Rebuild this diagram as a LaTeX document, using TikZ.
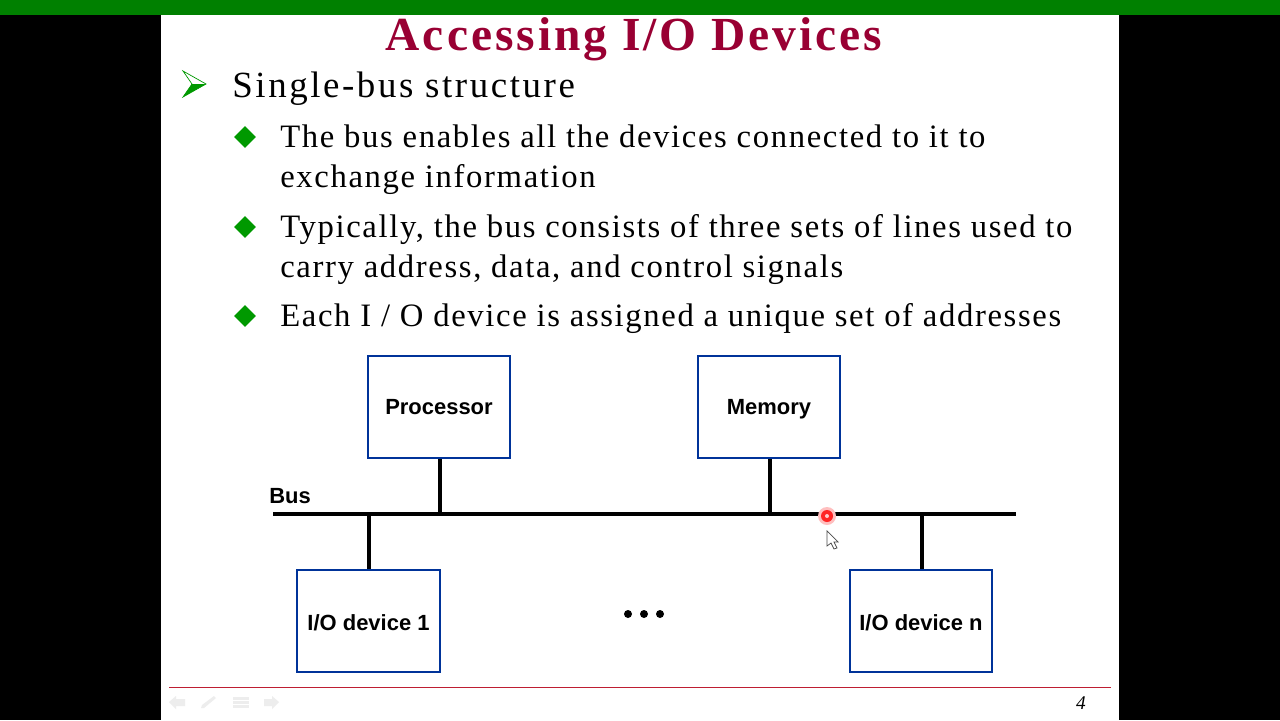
\documentclass[tikz,border=0pt]{standalone}
\usepackage{fontspec}
\setmainfont{Liberation Serif}
\setsansfont{Liberation Sans}
\usetikzlibrary{shapes.geometric,positioning}
\definecolor{barGreen}{RGB}{0,128,0}
\definecolor{titleRed}{RGB}{153,0,51}
\definecolor{boxBlue}{RGB}{0,51,153}
\definecolor{bulletGreen}{RGB}{0,153,0}
\definecolor{footRed}{RGB}{190,30,50}
\tikzset{
  unitbox/.style={draw=boxBlue,line width=1.3pt,fill=white,minimum width=80.5pt,minimum height=58pt,inner sep=0pt,font=\sffamily\bfseries\fontsize{12.5}{14}\selectfont,text=black,text height=9pt,text depth=0pt},
  busline/.style={line width=2.3pt,black},
  headline/.style={anchor=base west,inner sep=0pt,font=\fontsize{21}{24}\selectfont\addfontfeature{LetterSpace=7}},
  bodyline/.style={anchor=base west,inner sep=0pt,font=\fontsize{18.6}{21}\selectfont\addfontfeature{LetterSpace=5}},
  bulletmark/.style={diamond,fill=bulletGreen,inner sep=0pt,minimum width=12.5pt,minimum height=12.5pt},
  navicon/.style={fill=black!7},
}
\begin{document}
\begin{tikzpicture}[x=0.02cm,y=-0.02cm]
\useasboundingbox (0,0) rectangle (1280,720);
\fill[black] (0,0) rectangle (1280,720);
\fill[white] (161,15) rectangle (1119,720);
\fill[barGreen] (0,0) rectangle (1280,15);

% title
\node[anchor=base,inner sep=0pt,text=titleRed,font=\fontsize{27}{34}\selectfont\bfseries\addfontfeature{LetterSpace=6.3}] (title) at (634,50) {Accessing I/O Devices};

% text lines
\draw[bulletGreen,line width=0.4pt,fill=white] (183,71) -- (206,84) -- (183,97) -- (192,84) -- cycle;
\fill[bulletGreen] (183,97) -- (206,84) -- (192,84) -- cycle;
\node[headline] (head) at (232,97) {Single-bus structure};
\node[bulletmark] (b1) at (245,137) {};
\node[bodyline] (l1) at (280,147) {The bus enables all the devices connected to it to};
\node[bodyline] (l2) at (280,187) {exchange information};
\node[bulletmark] (b2) at (245,227) {};
\node[bodyline] (l3) at (280,237) {Typically, the bus consists of three sets of lines used to};
\node[bodyline] (l4) at (280,277) {carry address, data, and control signals};
\node[bulletmark] (b3) at (245,316) {};
\node[bodyline] (l5) at (280,326) {Each I / O device is assigned a unique set of addresses};

% boxes
\node[unitbox] (proc) at (439,407) {Processor};
\node[unitbox] (mem) at (769,407) {Memory};
\node[unitbox,minimum width=81pt,text height=11pt] (dev1) at (368.5,621) {I/O device 1};
\node[unitbox,text height=11pt] (devn) at (921,621) {I/O device n};

% bus
\coordinate (busL) at (273,514);
\coordinate (busR) at (1016,514);
\draw[busline] (busL) -- (busR);
\node[anchor=base west,inner sep=0pt,font=\sffamily\bfseries\fontsize{12.5}{14}\selectfont] (buslabel) at (269,503) {Bus};
\draw[busline] ([xshift=0.6pt]proc.south) -- ([xshift=0.6pt]proc.south |- busL);
\draw[busline] ([xshift=0.8pt]mem.south) -- ([xshift=0.8pt]mem.south |- busL);
\draw[busline] ([xshift=0.3pt]dev1.north) -- ([xshift=0.3pt]dev1.north |- busL);
\draw[busline] ([xshift=0.6pt]devn.north) -- ([xshift=0.6pt]devn.north |- busL);

% dots
\foreach \px in {628,644,660}
  \fill[black] (\px,614) circle (4);

% pointer
\fill[red!25] (827,516) circle (9);
\fill[red!85] (827,516) circle (6);
\fill[red!20] (827,516) circle (2);
\draw[black!70,line width=0.4pt,fill=white] (827,531) -- (827,546) -- (831,543) -- (834,549) -- (837,548) -- (834,542) -- (838,542) -- cycle;

% footer
\fill[footRed] (169,687) rectangle (1111,688.2);
\node[anchor=base,inner sep=0pt,font=\itshape\fontsize{11}{13}\selectfont] (pagenum) at (1081,709) {4};
\fill[navicon] (169,702) -- (176,696) -- (176,699) -- (185,699) -- (185,706) -- (176,706) -- (176,709) -- cycle;
\fill[navicon] (201,708) -- (204,708) -- (216,698) -- (214,696) -- (202,705) -- cycle;
\foreach \py in {697,701,705}
  \fill[navicon] (233,\py) rectangle (249,\py+3);
\fill[navicon] (279,702) -- (272,696) -- (272,699) -- (264,699) -- (264,706) -- (272,706) -- (272,709) -- cycle;
\end{tikzpicture}
\end{document}
